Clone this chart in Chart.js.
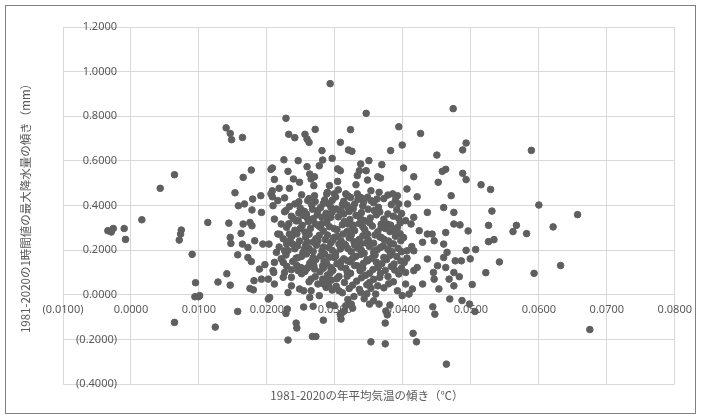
<!DOCTYPE html>
<html>
<head>
<meta charset="utf-8">
<script src="https://cdn.jsdelivr.net/npm/chart.js@4"></script>
<style>
  html, body { margin: 0; padding: 0; background: #fff; }
  canvas { display: block; }
</style>
</head>
<body>
<canvas id="scatterChart" width="701" height="419"></canvas>
<script>
// 軸の設定
const xTitle = '1981-2020の年平均気温の傾き（℃）';
const yTitle = '1981-2020の1時間値の最大降水量の傾き（mm）';
const xTicks = [-0.01, 0.08, 0.01];   // min, max, step
const yTicks = [-0.4, 1.2, 0.2];

// [気温の傾き, 降水量の傾き]
const outerPoints = [
  [-0.0034,0.287],[-0.0029,0.281],[-0.0026,0.297],[-0.0010,0.297],[-0.0008,0.248],[0.0016,0.336],
  [0.0043,0.477],[0.0064,0.538],[0.0074,0.290],[0.0073,0.272],[0.0071,0.245],[0.0090,0.181],
  [0.0095,0.054],[0.0094,-0.009],[0.0099,-0.009],[0.0101,-0.004],[0.0064,-0.124],[0.0128,0.057],
  [0.0141,0.094],[0.0146,0.043],[0.0124,-0.145],[0.0147,0.230],[0.0157,0.179],[0.0157,-0.075],
  [0.0140,0.748],[0.0146,0.723],[0.0148,0.695],[0.0164,0.705],[0.0153,0.457],[0.0165,0.526],
  [0.0177,0.559],[0.0179,0.429],[0.0191,0.444],[0.0206,0.562],[0.0208,0.568],[0.0211,0.517],
  [0.0208,0.466],[0.0218,0.477],[0.0208,0.439],[0.0226,0.434],[0.0225,0.605],[0.0228,0.791],
  [0.0232,0.719],[0.0241,0.704],[0.0231,0.553],[0.0239,0.519],[0.0233,0.477],[0.0246,0.601],
  [0.0293,0.946],[0.0346,0.813],[0.0474,0.834],[0.0271,0.741],[0.0256,0.719],[0.0259,0.698],
  [0.0262,0.683],[0.0323,0.740],[0.0308,0.683],[0.0394,0.753],[0.0426,0.723],[0.0399,0.671],
  [0.0382,0.646],[0.0320,0.649],[0.0325,0.643],[0.0281,0.646],[0.0296,0.611],[0.0282,0.604],
  [0.0277,0.578],[0.0259,0.574],[0.0263,0.541],[0.0270,0.529],[0.0265,0.519],[0.0248,0.504],
  [0.0269,0.489],[0.0304,0.564],[0.0308,0.556],[0.0304,0.508],[0.0292,0.489],[0.0305,0.470],
  [0.0338,0.586],[0.0350,0.601],[0.0346,0.556],[0.0336,0.556],[0.0333,0.534],[0.0348,0.514],
  [0.0331,0.493],[0.0363,0.529],[0.0367,0.523],[0.0369,0.583],[0.0401,0.568],[0.0416,0.529],
  [0.0406,0.474],[0.0421,0.439],[0.0450,0.626],[0.0458,0.553],[0.0463,0.562],[0.0452,0.504],
  [0.0488,0.649],[0.0493,0.680],[0.0488,0.544],[0.0493,0.516],[0.0471,0.444],[0.0515,0.493],
  [0.0529,0.472],[0.0385,0.452],[0.0392,0.444],[0.0353,0.466],[0.0365,0.459],[0.0333,0.452],
  [0.0316,0.452],[0.0289,0.459],
  [0.0589,0.647],[0.0600,0.402],[0.0531,0.375],[0.0657,0.359],[0.0484,0.313],[0.0496,0.286],
  [0.0526,0.311],[0.0567,0.311],[0.0562,0.283],[0.0582,0.274],[0.0621,0.304],[0.0526,0.238],
  [0.0534,0.247],[0.0493,0.199],[0.0507,0.203],[0.0486,0.152],[0.0499,0.161],[0.0542,0.147],
  [0.0632,0.131],[0.0522,0.099],[0.0593,0.096],[0.0483,0.081],[0.0502,0.046],[0.0487,-0.026],
  [0.0498,-0.042],[0.0506,-0.075],[0.0675,-0.156]
];

const lowerPoints = [
  [0.0415,-0.173],[0.0420,-0.211],[0.0353,-0.211],[0.0374,-0.220],[0.0374,-0.127],[0.0377,-0.090],
  [0.0375,-0.073],[0.0381,-0.046],[0.0365,-0.042],[0.0351,-0.042],[0.0360,0.003],[0.0309,-0.109],
  [0.0311,-0.079],[0.0316,-0.049],[0.0324,-0.042],[0.0299,-0.049],[0.0444,-0.054],[0.0447,-0.087],
  [0.0469,-0.019],[0.0392,0.018],[0.0399,-0.004],[0.0409,0.003],[0.0414,0.026],[0.0404,0.048],
  [0.0429,0.048],[0.0453,0.026],[0.0446,0.070],[0.0445,0.100],[0.0416,0.108],[0.0394,0.093],
  [0.0404,0.100],[0.0475,0.100],[0.0468,0.070],[0.0475,0.040],[0.0363,0.040],[0.0351,0.055],
  [0.0338,0.010],
  [0.0228,-0.084],[0.0283,-0.114],[0.0308,-0.090],[0.0314,-0.072],[0.0326,-0.060],[0.0292,-0.045],
  [0.0464,-0.311],
  [0.0231,-0.203],[0.0243,-0.127],[0.0244,-0.149],[0.0267,-0.187],[0.0272,-0.187],[0.0230,-0.064],
  [0.0254,-0.055],[0.0268,-0.052],[0.0202,-0.019],[0.0204,-0.012],[0.0175,0.028],[0.0180,0.022],
  [0.0181,0.063],[0.0192,0.070],[0.0211,0.048],[0.0210,0.100],[0.0202,0.070],[0.0224,0.078],
  [0.0231,0.010],[0.0236,0.040],[0.0248,0.026],[0.0254,0.018],[0.0263,-0.012],[0.0265,0.018],
  [0.0277,-0.004],[0.0275,0.048],[0.0265,0.070],[0.0236,0.078],[0.0226,0.100],[0.0246,0.108],
  [0.0270,0.115],[0.0189,0.115],[0.0282,0.070],[0.0287,0.033]
];

const midPoints = [
  [0.0113,0.324],[0.0144,0.321],[0.0158,0.399],[0.0167,0.407],[0.0178,0.380],[0.0165,0.317],
  [0.0175,0.324],[0.0178,0.309],[0.0162,0.275],[0.0146,0.257],[0.0164,0.227],[0.0172,0.212],
  [0.0182,0.242],[0.0194,0.227],[0.0203,0.227],[0.0177,0.149],[0.0172,0.167],[0.0197,0.135],
  [0.0209,0.108],[0.0192,0.369],[0.0206,0.452],[0.0209,0.399],[0.0216,0.422],[0.0211,0.339],
  [0.0221,0.317],[0.0216,0.272],[0.0228,0.377],[0.0241,0.407],[0.0246,0.332],[0.0233,0.272],
  [0.0238,0.227],[0.0226,0.197],[0.0214,0.190],[0.0211,0.145],[0.0224,0.145],[0.0246,0.167],
  [0.0255,0.205],[0.0260,0.272],[0.0258,0.362],[0.0260,0.422],[0.0270,0.444],[0.0275,0.377],
  [0.0280,0.317],[0.0275,0.242],[0.0268,0.167],[0.0285,0.182],[0.0282,0.130],[0.0250,0.122],
  [0.0260,0.122],
  [0.0436,0.369],[0.0460,0.391],[0.0475,0.369],[0.0475,0.317],[0.0463,0.279],[0.0443,0.272],
  [0.0436,0.272],[0.0424,0.287],[0.0416,0.347],[0.0407,0.407],[0.0394,0.407],[0.0404,0.332],
  [0.0412,0.317],[0.0429,0.235],[0.0446,0.242],[0.0460,0.227],[0.0465,0.190],[0.0460,0.167],
  [0.0477,0.152],[0.0436,0.160],[0.0451,0.130],[0.0463,0.122],[0.0421,0.122],[0.0406,0.197],
  [0.0416,0.197],[0.0397,0.242],[0.0387,0.287],[0.0377,0.317],[0.0368,0.302],[0.0382,0.227],
  [0.0372,0.167],[0.0387,0.138],[0.0402,0.145],[0.0358,0.197],[0.0348,0.152],[0.0363,0.122],
  [0.0338,0.227],[0.0329,0.287],[0.0343,0.332],[0.0358,0.377],[0.0353,0.422],[0.0338,0.436],
  [0.0319,0.444],[0.0299,0.452],[0.0309,0.377],[0.0294,0.347],[0.0319,0.317],[0.0299,0.257],
  [0.0314,0.227],[0.0299,0.167],[0.0319,0.152],[0.0333,0.130],[0.0294,0.122],[0.0329,0.407],
  [0.0368,0.257],[0.0348,0.272],[0.0319,0.391]
];

// 密集部（重なりが多く推定）
const corePoints = [
  [0.0262,0.431],[0.0285,0.425],[0.0301,0.438],[0.0313,0.419],[0.0334,0.428],[0.0348,0.437],
  [0.0357,0.412],[0.0372,0.431],[0.0378,0.447],[0.0251,0.448],[0.0288,0.452],
  [0.0233,0.395],[0.0249,0.388],[0.0266,0.402],[0.0279,0.391],[0.0291,0.408],[0.0302,0.384],
  [0.0318,0.401],[0.0327,0.386],[0.0341,0.398],[0.0364,0.392],[0.0383,0.404],[0.0391,0.381],
  [0.0255,0.374],[0.0287,0.365],
  [0.0236,0.352],[0.0247,0.366],[0.0268,0.341],[0.0274,0.358],[0.0289,0.338],[0.0296,0.371],
  [0.0305,0.349],[0.0313,0.362],[0.0322,0.337],[0.0331,0.356],[0.0339,0.368],[0.0352,0.344],
  [0.0361,0.358],[0.0372,0.339],[0.0386,0.352],[0.0398,0.364],[0.0243,0.331],[0.0259,0.345],
  [0.0229,0.302],[0.0241,0.289],[0.0252,0.311],[0.0264,0.297],[0.0271,0.318],[0.0283,0.286],
  [0.0292,0.305],[0.0303,0.292],[0.0311,0.314],[0.0318,0.283],[0.0326,0.301],[0.0336,0.319],
  [0.0344,0.291],[0.0355,0.308],[0.0363,0.282],[0.0374,0.297],[0.0382,0.312],[0.0392,0.301],
  [0.0256,0.281],[0.0279,0.302],
  [0.0224,0.251],[0.0237,0.263],[0.0248,0.241],[0.0257,0.258],[0.0268,0.236],[0.0277,0.266],
  [0.0286,0.247],[0.0294,0.233],[0.0304,0.262],[0.0309,0.241],[0.0321,0.255],[0.0328,0.238],
  [0.0341,0.264],[0.0349,0.246],[0.0357,0.231],[0.0366,0.259],[0.0379,0.241],[0.0389,0.262],
  [0.0401,0.256],[0.0262,0.271],
  [0.0218,0.214],[0.0231,0.198],[0.0245,0.219],[0.0253,0.189],[0.0262,0.207],[0.0273,0.222],
  [0.0281,0.196],[0.0291,0.212],[0.0301,0.187],[0.0308,0.205],[0.0316,0.221],[0.0324,0.193],
  [0.0333,0.209],[0.0343,0.186],[0.0351,0.216],[0.0362,0.201],[0.0371,0.219],[0.0384,0.193],
  [0.0393,0.208],[0.0413,0.216],
  [0.0221,0.161],[0.0238,0.149],[0.0251,0.172],[0.0263,0.141],[0.0272,0.158],[0.0284,0.149],
  [0.0292,0.168],[0.0303,0.139],[0.0313,0.161],[0.0322,0.148],[0.0331,0.172],[0.0342,0.141],
  [0.0354,0.163],[0.0361,0.146],[0.0376,0.158],[0.0391,0.171],[0.0406,0.164],
  [0.0236,0.112],[0.0251,0.094],[0.0259,0.118],[0.0278,0.103],[0.0289,0.088],[0.0297,0.109],
  [0.0306,0.082],[0.0316,0.118],[0.0323,0.096],[0.0337,0.108],[0.0345,0.087],[0.0356,0.113],
  [0.0367,0.095],[0.0378,0.082],[0.0388,0.111],
  [0.0262,0.058],[0.0283,0.049],[0.0295,0.066],[0.0302,0.038],[0.0314,0.055],[0.0321,0.028],
  [0.0332,0.061],[0.0347,0.045],[0.0357,0.069],[0.0372,0.031],[0.0386,0.058],[0.0296,0.021],
  [0.0311,0.009],[0.0328,-0.008],[0.0343,-0.018],[0.0357,-0.027]
];

const coreExtra = [
  [0.0226,0.372],[0.0239,0.341],[0.0253,0.356],[0.0267,0.383],[0.0281,0.347],[0.0294,0.392],
  [0.0308,0.361],[0.0321,0.373],[0.0337,0.347],[0.0349,0.383],[0.0366,0.371],[0.0378,0.362],
  [0.0394,0.342],
  [0.0232,0.318],[0.0249,0.297],[0.0261,0.327],[0.0276,0.309],[0.0288,0.322],[0.0299,0.296],
  [0.0314,0.328],[0.0327,0.312],[0.0341,0.305],[0.0351,0.323],[0.0368,0.316],[0.0381,0.283],
  [0.0396,0.322],
  [0.0219,0.271],[0.0234,0.244],[0.0244,0.273],[0.0259,0.236],[0.0272,0.251],[0.0289,0.268],
  [0.0297,0.245],[0.0312,0.272],[0.0324,0.268],[0.0336,0.248],[0.0346,0.232],[0.0359,0.268],
  [0.0372,0.249],[0.0386,0.228],[0.0396,0.273],
  [0.0229,0.228],[0.0241,0.206],[0.0257,0.222],[0.0268,0.194],[0.0283,0.214],[0.0296,0.199],
  [0.0306,0.226],[0.0319,0.207],[0.0329,0.223],[0.0339,0.199],[0.0357,0.188],[0.0367,0.212],
  [0.0378,0.203],[0.0398,0.193],
  [0.0228,0.178],[0.0243,0.164],[0.0258,0.183],[0.0266,0.152],[0.0279,0.174],[0.0288,0.139],
  [0.0301,0.173],[0.0309,0.148],[0.0326,0.163],[0.0338,0.181],[0.0347,0.157],[0.0359,0.178],
  [0.0369,0.139],[0.0381,0.176],[0.0397,0.151],
  [0.0229,0.128],[0.0244,0.131],[0.0256,0.104],[0.0269,0.131],[0.0283,0.119],[0.0293,0.097],
  [0.0309,0.124],[0.0318,0.103],[0.0329,0.131],[0.0341,0.119],[0.0351,0.096],[0.0364,0.126],
  [0.0374,0.109],[0.0383,0.127],[0.0398,0.118],
  [0.0271,0.081],[0.0287,0.061],[0.0303,0.072],[0.0318,0.083],[0.0326,0.043],[0.0339,0.076],
  [0.0353,0.029],[0.0366,0.078],[0.0379,0.049],[0.0291,0.041],[0.0306,0.018],[0.0336,0.024],
  [0.0319,-0.021],[0.0347,0.004],
  [0.0271,0.418],[0.0296,0.423],[0.0323,0.436],[0.0342,0.414],[0.0362,0.429],[0.0311,0.404],
  [0.0283,0.409],[0.0247,0.417],[0.0389,0.423]
];

const allPoints = outerPoints.concat(lowerPoints, midPoints, corePoints, coreExtra)
  .map(p => ({ x: p[0], y: p[1] }));

const markerColor = '#5f5f5f';
const gridColor = '#d9d9d9';
const tickColor = '#595959';

// Excel風の数値表示 (負数は括弧)
function fmt(v) {
  const s = Math.abs(v).toFixed(4);
  return v < -1e-9 ? '(' + s + ')' : s;
}

// 外枠と軸タイトル
const framePlugin = {
  id: 'frameAndTitles',
  afterDraw(chart) {
    const ctx = chart.ctx;
    const area = chart.chartArea;
    ctx.save();
    ctx.strokeStyle = '#7f7f7f';
    ctx.lineWidth = 1;
    ctx.strokeRect(5.5, 5.5, 690, 408);

    ctx.fillStyle = tickColor;
    ctx.font = '11.5px "Noto Sans CJK JP", "Noto Sans", sans-serif';
    ctx.textAlign = 'center';
    ctx.textBaseline = 'middle';
    ctx.fillText(xTitle, (area.left + area.right) / 2 - 2, 396);

    ctx.translate(26, (area.top + area.bottom) / 2);
    ctx.rotate(-Math.PI / 2);
    ctx.fillText(yTitle, 0, 0);
    ctx.restore();
  }
};

const ctx = document.getElementById('scatterChart').getContext('2d');
new Chart(ctx, {
  type: 'scatter',
  data: {
    datasets: [{
      label: 'slope',
      data: allPoints,
      backgroundColor: markerColor,
      borderColor: markerColor,
      borderWidth: 1,
      pointRadius: 3.3,
      pointHoverRadius: 3.3
    }]
  },
  options: {
    responsive: false,
    animation: false,
    devicePixelRatio: 1,
    layout: { padding: { left: 63, right: 22, top: 27, bottom: 35 } },
    plugins: {
      legend: { display: false },
      tooltip: { enabled: false }
    },
    scales: {
      x: {
        type: 'linear',
        position: { y: 0 },
        min: xTicks[0],
        max: xTicks[1],
        grid: { color: gridColor, drawTicks: false },
        border: { display: false },
        ticks: {
          stepSize: xTicks[2],
          autoSkip: false,
          maxRotation: 0,
          padding: 9,
          color: tickColor,
          font: { family: '"Noto Sans", sans-serif', size: 11 },
          callback: v => fmt(v)
        }
      },
      y: {
        type: 'linear',
        position: { x: -0.00205 },
        min: yTicks[0],
        max: yTicks[1],
        grid: { color: gridColor, drawTicks: false },
        border: { display: false },
        ticks: {
          stepSize: yTicks[2],
          autoSkip: false,
          color: tickColor,
          font: { family: '"Noto Sans", sans-serif', size: 11 },
          callback: v => fmt(v)
        }
      }
    }
  },
  plugins: [framePlugin]
});
</script>
</body>
</html>
